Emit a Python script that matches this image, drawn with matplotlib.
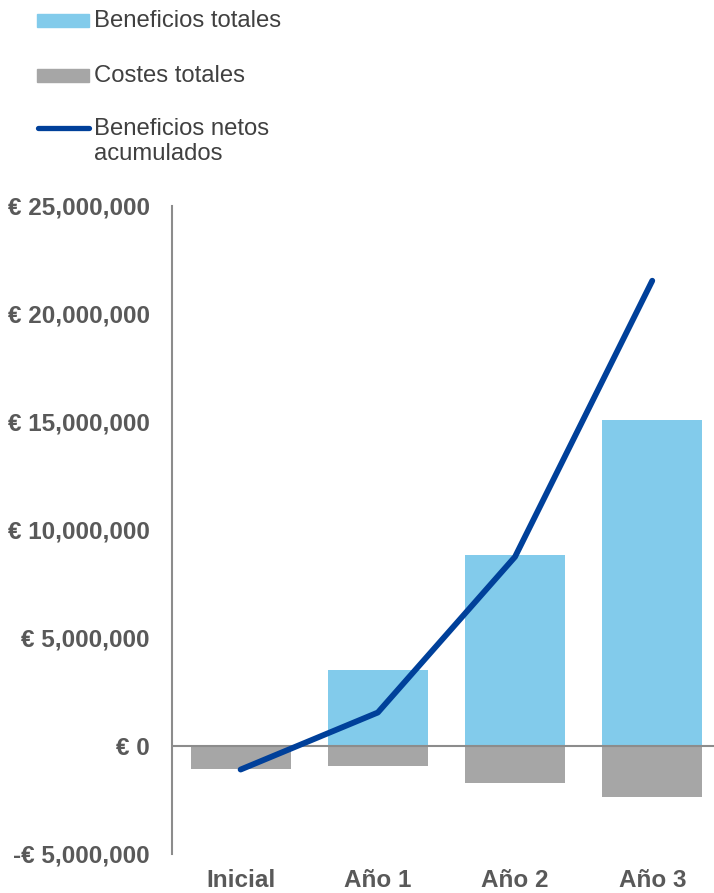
import matplotlib
matplotlib.use("Agg")
import matplotlib.pyplot as plt
from matplotlib.patches import Rectangle
from matplotlib.lines import Line2D
from matplotlib.ticker import FuncFormatter

categories = ["Inicial", "Año 1", "Año 2", "Año 3"]
beneficios_totales = [0.0, 3.50e6, 8.85e6, 15.08e6]
costes_totales = [-1.08e6, -0.92e6, -1.73e6, -2.34e6]
beneficios_netos = [-1.09e6, 1.55e6, 8.76e6, 21.54e6]
yticks = [-5e6, 0, 5e6, 10e6, 15e6, 20e6, 25e6]

legend_labels = ["Beneficios totales", "Costes totales", "Beneficios netos\nacumulados"]

c_blue = "#82CBEB"
c_gray = "#A6A6A6"
c_line = "#00409A"
c_axis = "#8C8C8C"
c_tick = "#595959"
c_text = "#404040"

plt.rcParams['font.family'] = ['Liberation Sans', 'DejaVu Sans']

W, H = 714, 893
fig = plt.figure(figsize=(W / 100, H / 100), dpi=100)
ax = fig.add_axes([172 / W, (H - 854) / H, (W - 172) / W, (854 - 206) / H])

x = list(range(len(categories)))
ax.bar(x, beneficios_totales, width=0.73, color=c_blue, zorder=2)
ax.bar(x, costes_totales, width=0.73, color=c_gray, zorder=2)
ax.axhline(0, color=c_axis, lw=1.5, zorder=3)
ax.plot(x, beneficios_netos, color=c_line, lw=4.2, solid_capstyle='round',
        solid_joinstyle='round', zorder=4)

ax.set_xlim(-0.5, 3.45)
ax.set_ylim(-5e6, 25e6)
ax.set_yticks(yticks)


def fmt(v, pos):
    if v < 0:
        return "-€ {:,.0f}".format(-v)
    return "€ {:,.0f}".format(v)


ax.yaxis.set_major_formatter(FuncFormatter(fmt))
ax.set_xticks(x)
ax.set_xticklabels(categories)
for lbl in ax.get_yticklabels() + ax.get_xticklabels():
    lbl.set_fontweight('bold')
    lbl.set_color(c_tick)
    lbl.set_fontsize(17.5)
ax.tick_params(axis='y', length=0, pad=16)
ax.tick_params(axis='x', length=0, pad=11)
for s in ['top', 'right', 'bottom']:
    ax.spines[s].set_visible(False)
ax.spines['left'].set_color(c_axis)
ax.spines['left'].set_linewidth(1.5)

# Legend drawn manually in figure pixel coordinates
def fx(px):
    return px / W


def fy(py):
    return 1 - py / H


fig.add_artist(Rectangle((fx(37), fy(27)), fx(89) - fx(37), 13 / H,
                         transform=fig.transFigure, color=c_blue))
fig.add_artist(Rectangle((fx(37), fy(82)), fx(89) - fx(37), 13 / H,
                         transform=fig.transFigure, color=c_gray))
fig.add_artist(Line2D([fx(38), fx(89)], [fy(128), fy(128)], transform=fig.transFigure,
                      color=c_line, lw=3.8, solid_capstyle='round'))
fig.text(fx(94), fy(21), legend_labels[0], fontsize=17.2, color=c_text, va='center', ha='left')
fig.text(fx(94), fy(76), legend_labels[1], fontsize=17.2, color=c_text, va='center', ha='left')
fig.text(fx(94), fy(118), legend_labels[2], fontsize=17.2, color=c_text, va='top', ha='left',
         linespacing=1.18)

fig.savefig("out.png", dpi=100)
